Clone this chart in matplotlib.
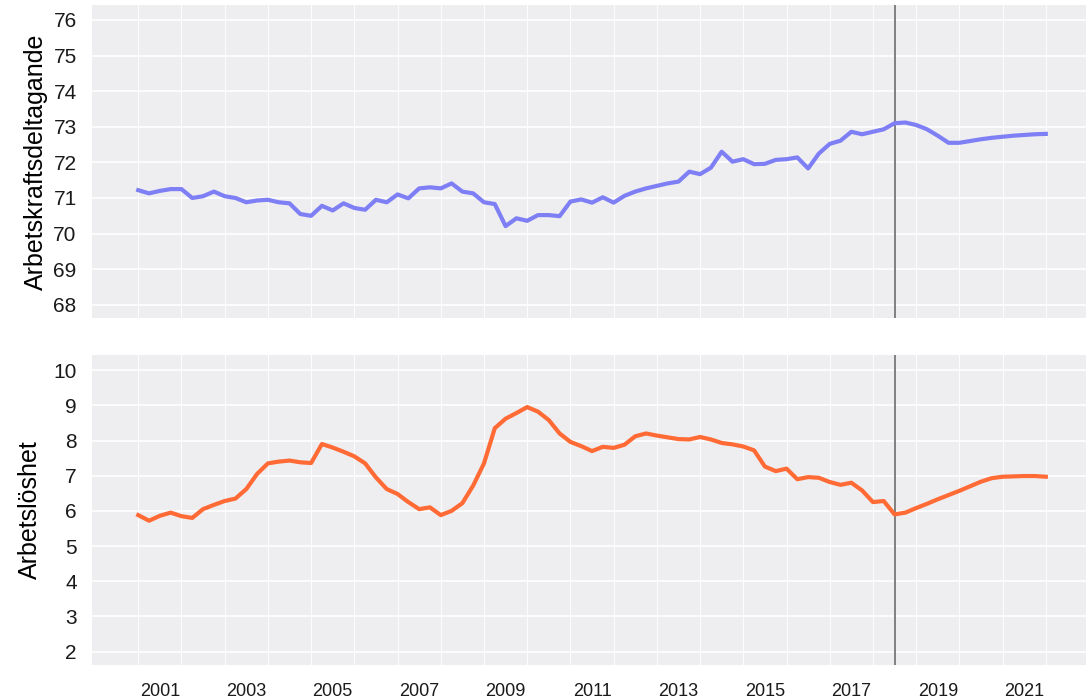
import numpy as np
import matplotlib.pyplot as plt
from matplotlib.ticker import FixedLocator

plt.rcParams['font.family'] = ['Liberation Sans', 'DejaVu Sans']

# quarterly observations, first quarter plotted at 2000.5
start = 2000.5
prognos_start = 2018.0

# Arbetskraftsdeltagande (%)
deltagande = [71.22, 71.13, 71.20, 71.25, 71.25, 71.00, 71.05, 71.18, 71.05, 71.00,
              70.88, 70.93, 70.95, 70.88, 70.85, 70.55, 70.50, 70.78, 70.65, 70.85,
              70.72, 70.67, 70.95, 70.88, 71.10, 70.99, 71.27, 71.30, 71.27, 71.41,
              71.18, 71.13, 70.88, 70.83, 70.21, 70.43, 70.36, 70.52, 70.52, 70.49,
              70.90, 70.96, 70.87, 71.02, 70.87, 71.06, 71.18, 71.27, 71.34, 71.41,
              71.46, 71.74, 71.67, 71.85, 72.30, 72.02, 72.09, 71.95, 71.96, 72.07,
              72.09, 72.14, 71.83, 72.25, 72.52, 72.61, 72.86, 72.79, 72.86, 72.93,
              73.10, 73.12, 73.05, 72.93, 72.75, 72.55, 72.55, 72.60, 72.65, 72.69,
              72.72, 72.75, 72.77, 72.79, 72.80]

# Arbetslöshet (%)
arbetsloshet = [5.88, 5.72, 5.86, 5.95, 5.85, 5.80, 6.05, 6.17, 6.28, 6.35,
                6.62, 7.05, 7.35, 7.40, 7.43, 7.38, 7.36, 7.90, 7.80, 7.68,
                7.55, 7.35, 6.95, 6.62, 6.48, 6.25, 6.05, 6.10, 5.88, 6.00,
                6.22, 6.72, 7.35, 8.35, 8.62, 8.78, 8.95, 8.82, 8.58, 8.20,
                7.96, 7.84, 7.70, 7.82, 7.79, 7.88, 8.12, 8.20, 8.14, 8.09,
                8.04, 8.03, 8.10, 8.03, 7.93, 7.89, 7.83, 7.72, 7.26, 7.13,
                7.20, 6.90, 6.96, 6.94, 6.82, 6.74, 6.80, 6.58, 6.25, 6.28,
                5.90, 5.95, 6.08, 6.20, 6.33, 6.45, 6.57, 6.70, 6.83, 6.93,
                6.97, 6.98, 6.99, 6.99, 6.97]

ar_etiketter = [2001, 2003, 2005, 2007, 2009, 2011, 2013, 2015, 2017, 2019, 2021]

t = start + 0.25 * np.arange(len(deltagande))

W, H = 1086, 700
fig = plt.figure(figsize=(W / 100, H / 100), dpi=100)
ax1 = fig.add_axes([92 / W, 1 - 318 / H, 1 - 92 / W, 313 / H])
ax2 = fig.add_axes([92 / W, 1 - 665 / H, 1 - 92 / W, 310 / H])

bg = '#EEEEF1'
for ax in (ax1, ax2):
    ax.set_facecolor(bg)
    for s in ax.spines.values():
        s.set_visible(False)
    ax.set_xlim(1999.43, 2022.43)
    ax.xaxis.set_major_locator(FixedLocator(ar_etiketter))
    ax.xaxis.set_minor_locator(FixedLocator(np.arange(2000.5, 2022.5, 1.0)))
    ax.grid(False, axis='x', which='major')
    ax.grid(True, axis='x', which='minor', color='white', linewidth=0.8, alpha=0.85)
    ax.grid(True, axis='y', which='major', color='white', linewidth=1.1)
    ax.tick_params(axis='both', which='both', length=0)
    ax.tick_params(axis='y', labelsize=15, pad=11, labelcolor='#1a1a1a')
    ax.set_axisbelow(True)
    ax.axvline(prognos_start, color='#808080', linewidth=1.4, zorder=3)

ax1.plot(t, deltagande, color='#7F7FF5', linewidth=3.0, solid_joinstyle='round', zorder=4)
ax1.set_ylim(67.63, 76.42)
ax1.set_yticks(range(68, 77))
ax1.set_xticklabels([])
ax1.set_ylabel('Arbetskraftsdeltagande', fontsize=18, labelpad=4)

ax2.plot(t, arbetsloshet, color='#FF6A35', linewidth=3.0, solid_joinstyle='round', zorder=4)
ax2.set_ylim(1.62, 10.43)
ax2.set_yticks(range(2, 11))
ax2.set_xticklabels([str(y) for y in ar_etiketter])
ax2.tick_params(axis='x', labelsize=13, pad=13, labelcolor='#1a1a1a')
ax2.set_ylabel('Arbetslöshet', fontsize=18, labelpad=8)

fig.savefig('out.png', dpi=100, facecolor='white')
